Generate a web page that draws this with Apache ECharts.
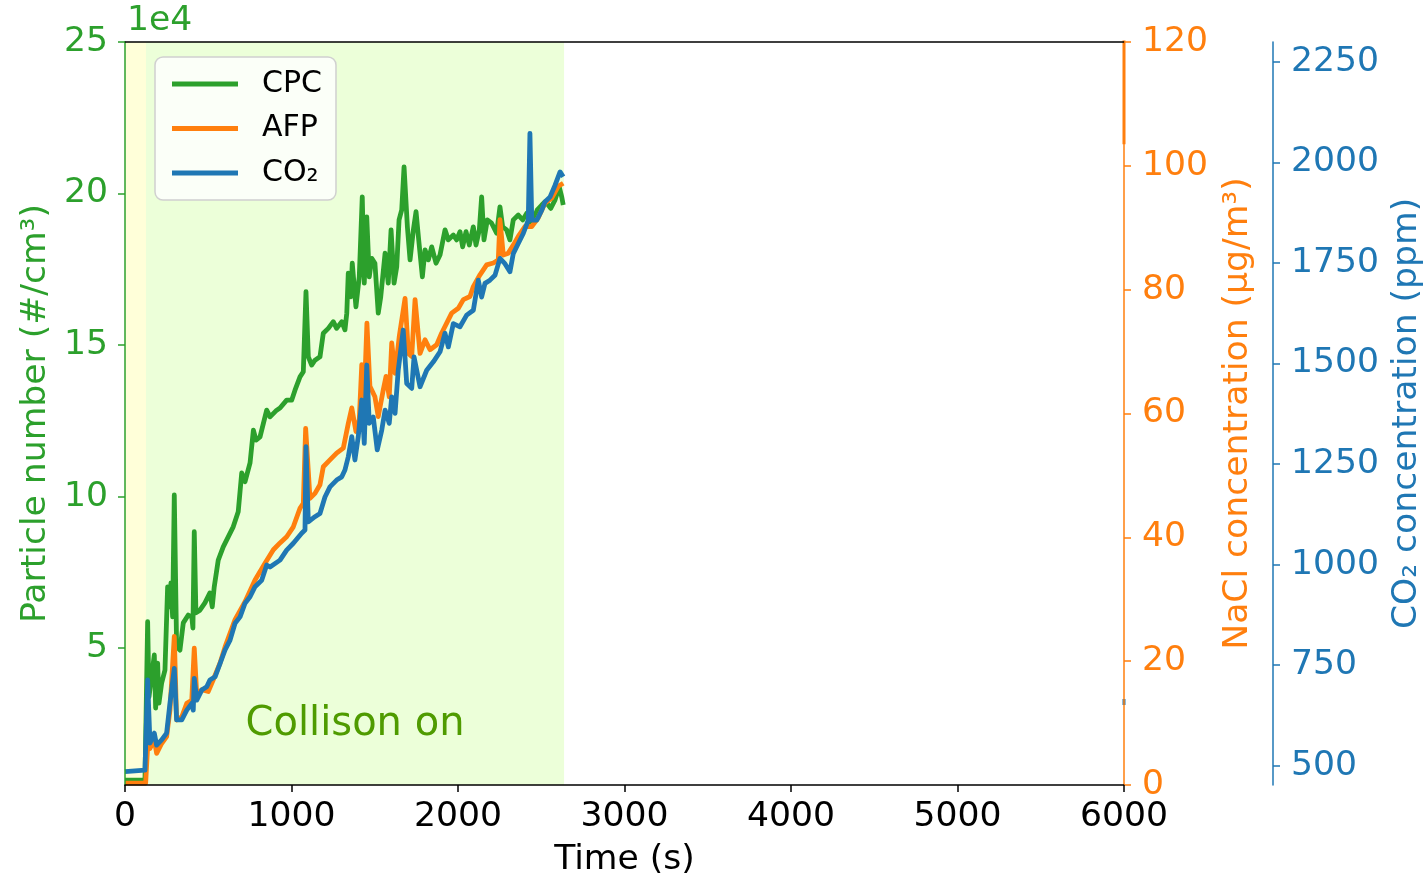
<!DOCTYPE html>
<html>
<head>
<meta charset="utf-8">
<title>Collison aerosol test</title>
<script src="https://cdn.jsdelivr.net/npm/echarts@6/dist/echarts.min.js"></script>
<style>
  html, body { margin: 0; padding: 0; background: #ffffff; overflow: hidden; }
  #chart { width: 1427px; height: 876px; }
</style>
</head>
<body>
<div id="chart"></div>
<script>
// Time (s) vs particle number from the CPC (#/cm3)
const cpcPoints = [
  [0,6400],[120,6400],[136,58700],[144,33900],[176,47700],[184,30200],[196,45000],[204,31800],
  [220,38400],[240,42700],[256,70200],[266,63600],[276,71500],[286,60300],[296,100500],[310,50400],
  [330,49300],[350,58300],[380,60900],[401,60300],[408,56600],[416,88400],[426,61600],[450,62500],
  [480,64900],[510,68200],[524,63600],[536,70200],[560,79000],[590,83400],[620,86700],[650,90000],
  [680,95000],[701,107800],[721,104900],[751,111100],[771,121900],[787,118600],[811,119700],[851,128500],
  [871,126300],[911,128500],[931,129200],[971,131800],[1001,131800],[1021,135100],[1051,139500],[1071,141200],
  [1087,167600],[1101,146100],[1121,143400],[1141,145000],[1171,146100],[1191,153900],[1221,155500],[1251,157700],
  [1271,155500],[1302,157700],[1321,155000],[1332,160500],[1341,173700],[1356,165900],[1365,177000],[1387,162600],
  [1407,172500],[1425,198900],[1437,170400],[1452,192300],[1467,172500],[1482,178600],[1501,177000],[1521,160500],
  [1536,165900],[1562,180300],[1581,170400],[1598,188000],[1616,170400],[1632,175800],[1646,191300],[1662,194600],
  [1676,208800],[1696,189000],[1712,178100],[1732,188000],[1748,194000],[1764,184700],[1786,172500],[1802,181400],
  [1822,178100],[1842,182400],[1868,177000],[1892,179700],[1902,180300],[1922,188000],[1942,184700],[1972,186300],
  [1992,184700],[2012,187400],[2028,182400],[2048,187400],[2068,183000],[2092,189000],[2108,183000],[2128,188000],
  [2142,198900],[2156,184700],[2176,191300],[2202,190200],[2232,186900],[2252,195600],[2268,189000],[2292,188000],
  [2312,184700],[2332,191300],[2362,192900],[2389,191300],[2413,193500],[2432,190700],[2452,191300],[2476,194600],
  [2503,196200],[2523,197300],[2542,196200],[2557,195100],[2583,197900],[2608,202200],[2623,198900],[2632,196200]
];

// Time (s) vs NaCl mass concentration from the AFP (ug/m3)
const afpPoints = [
  [0,0.3],[124,0.3],[136,6.2],[150,5.9],[176,7.3],[190,5.1],[220,6.7],[250,7.8],[270,12.1],[296,24.0],
  [310,10.5],[341,11.0],[371,13.2],[401,13.7],[416,22.1],[431,14.5],[461,15.4],[500,15.1],[530,17.0],[571,19.7],
  [601,22.3],[661,26.7],[721,29.6],[781,33.1],[841,35.8],[891,38.0],[931,39.1],[971,40.1],[1011,41.7],[1051,44.7],
  [1071,45.5],[1085,57.6],[1111,46.3],[1141,47.1],[1171,48.5],[1191,51.4],[1231,52.5],[1271,53.6],[1311,54.4],[1341,58.4],
  [1362,60.9],[1387,57.1],[1407,59.0],[1422,67.9],[1437,62.7],[1453,74.6],[1471,64.4],[1501,62.7],[1521,59.5],[1551,63.8],
  [1568,66.0],[1587,62.7],[1602,71.4],[1622,66.5],[1647,72.4],[1682,78.6],[1702,69.7],[1722,69.2],[1742,78.4],[1772,69.7],
  [1802,71.9],[1832,70.3],[1872,71.1],[1902,73.0],[1932,74.6],[1962,76.2],[2002,77.0],[2032,78.4],[2072,78.9],[2092,80.5],
  [2132,82.4],[2172,84.0],[2212,84.3],[2242,84.8],[2252,91.3],[2272,85.6],[2302,85.9],[2332,87.2],[2362,88.6],[2402,90.2],
  [2443,90.2],[2482,91.6],[2523,94.0],[2563,94.8],[2602,96.7],[2632,97.2]
];
const afpTail = [[6000,121],[6000,103.5]];

// Time (s) vs CO2 concentration (ppm)
const co2Points = [
  [0,485],[120,489],[136,713],[150,556],[176,581],[190,551],[220,564],[250,581],[270,655],[296,742],
  [310,614],[341,614],[371,638],[401,655],[410,638],[416,717],[431,663],[461,688],[491,696],[510,713],
  [541,721],[571,754],[601,788],[631,812],[661,854],[691,870],[721,904],[751,920],[781,945],[821,961],
  [851,999],[871,994],[931,1011],[971,1036],[1011,1053],[1061,1078],[1081,1086],[1087,1293],[1101,1106],[1141,1119],
  [1171,1127],[1201,1168],[1231,1193],[1271,1210],[1302,1218],[1321,1235],[1341,1268],[1362,1318],[1381,1260],[1401,1318],
  [1422,1409],[1437,1301],[1452,1496],[1467,1351],[1491,1367],[1515,1285],[1542,1334],[1562,1384],[1587,1351],[1602,1417],
  [1622,1376],[1641,1483],[1671,1583],[1692,1450],[1722,1438],[1736,1516],[1772,1442],[1812,1483],[1852,1504],[1892,1529],
  [1922,1575],[1942,1541],[1972,1599],[2012,1591],[2052,1620],[2092,1632],[2122,1707],[2142,1665],[2162,1699],[2192,1707],
  [2222,1719],[2252,1761],[2282,1748],[2312,1728],[2332,1773],[2362,1798],[2392,1823],[2422,1856],[2432,2072],[2443,1856],
  [2473,1856],[2503,1881],[2523,1902],[2553,1914],[2583,1943],[2613,1976],[2632,1964]
];
const co2Tail = [[6000,666],[6000,651]];

// Phases of the run (s)
const warmupPhase = [0, 126];
const collisonPhase = [126, 2637];

// Axis ticks
const cpcTicks = [50000, 100000, 150000, 200000, 250000];
const co2Ticks = [500, 750, 1000, 1250, 1500, 1750, 2000, 2250];

const FONT = 'DejaVu Sans';
const FS = 34.6;
const C_CPC = '#2ca02c', C_AFP = '#ff7f0e', C_CO2 = '#1f77b4';
const plain = v => String(v);

const chart = echarts.init(document.getElementById('chart'), null, { renderer: 'canvas' });

function lineSeries(name, data, color, yIdx, width) {
  return {
    name: name, type: 'line', data: data, xAxisIndex: 0, yAxisIndex: yIdx,
    symbol: 'none', smooth: false, z: 3,
    lineStyle: { color: color, width: width, join: 'round', cap: 'butt' },
    itemStyle: { color: color },
    emphasis: { disabled: true }
  };
}

const option = {
  animation: false,
  backgroundColor: '#ffffff',
  grid: { left: 125, right: 303, top: 42, bottom: 91, containLabel: false, outerBoundsMode: 'none' },
  legend: {
    data: ['CPC', 'AFP', 'CO₂'],
    orient: 'vertical', left: 155, top: 57,
    icon: 'rect', itemWidth: 66, itemHeight: 5, itemGap: 10.5,
    padding: [10, 14, 10, 17],
    borderColor: '#d0d0d0', borderWidth: 1.5, borderRadius: 8,
    backgroundColor: 'rgba(255,255,255,0.8)',
    textStyle: { fontFamily: FONT, fontSize: 30, lineHeight: 34, color: '#000', padding: [0, 0, 0, 19] },
    selectedMode: false
  },
  xAxis: [
    {
      type: 'value', min: 0, max: 6000, interval: 1000, z: 10,
      name: 'Time (s)', nameLocation: 'middle', nameGap: 58,
      nameTextStyle: { fontFamily: FONT, fontSize: FS, color: '#000' },
      axisLine: { onZero: false, lineStyle: { color: '#000', width: 1.5 } },
      axisTick: { length: 7, lineStyle: { color: '#000', width: 1.5 } },
      axisLabel: { margin: 15, fontFamily: FONT, fontSize: FS, color: '#000', formatter: plain },
      splitLine: { show: false }
    },
    {
      type: 'value', position: 'top', min: 0, max: 6000, z: 10,
      axisLine: { onZero: false, lineStyle: { color: '#000', width: 1.5 } },
      axisTick: { show: false }, axisLabel: { show: false }, splitLine: { show: false }
    }
  ],
  yAxis: [
    {
      type: 'value', position: 'left', min: 4800, max: 250000, z: 10,
      name: 'Particle number (#/cm³)', nameLocation: 'middle', nameRotate: 90, nameGap: 71,
      nameTextStyle: { fontFamily: FONT, fontSize: FS, color: C_CPC },
      axisLine: { show: true, onZero: false, lineStyle: { color: C_CPC, width: 1.5 } },
      axisTick: { show: true, length: 7, customValues: cpcTicks, lineStyle: { color: C_CPC, width: 1.5 } },
      axisLabel: { margin: 17, customValues: cpcTicks, fontFamily: FONT, fontSize: FS, color: C_CPC,
                   formatter: v => String(Math.round(v / 10000)) },
      splitLine: { show: false }
    },
    {
      type: 'value', position: 'right', min: 0, max: 120, interval: 20, z: 10,
      name: 'NaCl concentration (µg/m³)', nameLocation: 'middle', nameRotate: 90, nameGap: 97,
      nameTextStyle: { fontFamily: FONT, fontSize: FS, color: C_AFP },
      axisLine: { show: true, onZero: false, lineStyle: { color: C_AFP, width: 1.5 } },
      axisTick: { show: true, length: 7, lineStyle: { color: C_AFP, width: 1.5 } },
      axisLabel: { margin: 18, fontFamily: FONT, fontSize: FS, color: C_AFP, formatter: plain },
      splitLine: { show: false }
    },
    {
      type: 'value', position: 'right', offset: 149, min: 452, max: 2299, z: 10,
      name: 'CO₂ concentration (ppm)', nameLocation: 'middle', nameRotate: 90, nameGap: 115,
      nameTextStyle: { fontFamily: FONT, fontSize: FS, color: C_CO2 },
      axisLine: { show: true, onZero: false, lineStyle: { color: C_CO2, width: 1.5 } },
      axisTick: { show: true, length: 7, customValues: co2Ticks, lineStyle: { color: C_CO2, width: 1.5 } },
      axisLabel: { margin: 18, customValues: co2Ticks, fontFamily: FONT, fontSize: FS, color: C_CO2, formatter: plain },
      splitLine: { show: false }
    }
  ],
  graphic: [
    { type: 'text', left: 127, top: 4, z: 20,
      style: { text: '1e4', fontFamily: FONT, fontSize: FS, fill: C_CPC } }
  ],
  series: [
    {
      name: 'phases', type: 'line', data: [], xAxisIndex: 0, yAxisIndex: 1, z: 1, silent: true,
      markArea: {
        silent: true,
        data: [
          [ { xAxis: warmupPhase[0], itemStyle: { color: '#ffffd9' }, label: { show: false } },
            { xAxis: warmupPhase[1] } ],
          [ { name: 'Collison on', xAxis: collisonPhase[0], itemStyle: { color: '#ecffd9' },
              label: { show: true, position: 'insideBottom', distance: 40, formatter: 'Collison on',
                       fontFamily: FONT, fontSize: 40, color: '#4f9b00' } },
            { xAxis: collisonPhase[1] } ]
        ]
      }
    },
    lineSeries('CPC', cpcPoints, C_CPC, 0, 4.8),
    lineSeries('AFP', afpPoints, C_AFP, 1, 4.8),
    lineSeries('AFP', afpTail, C_AFP, 1, 3),
    lineSeries('CO₂', co2Points, C_CO2, 2, 4.8),
    lineSeries('CO₂', co2Tail, C_CO2, 2, 3)
  ]
};

chart.setOption(option);
</script>
</body>
</html>
